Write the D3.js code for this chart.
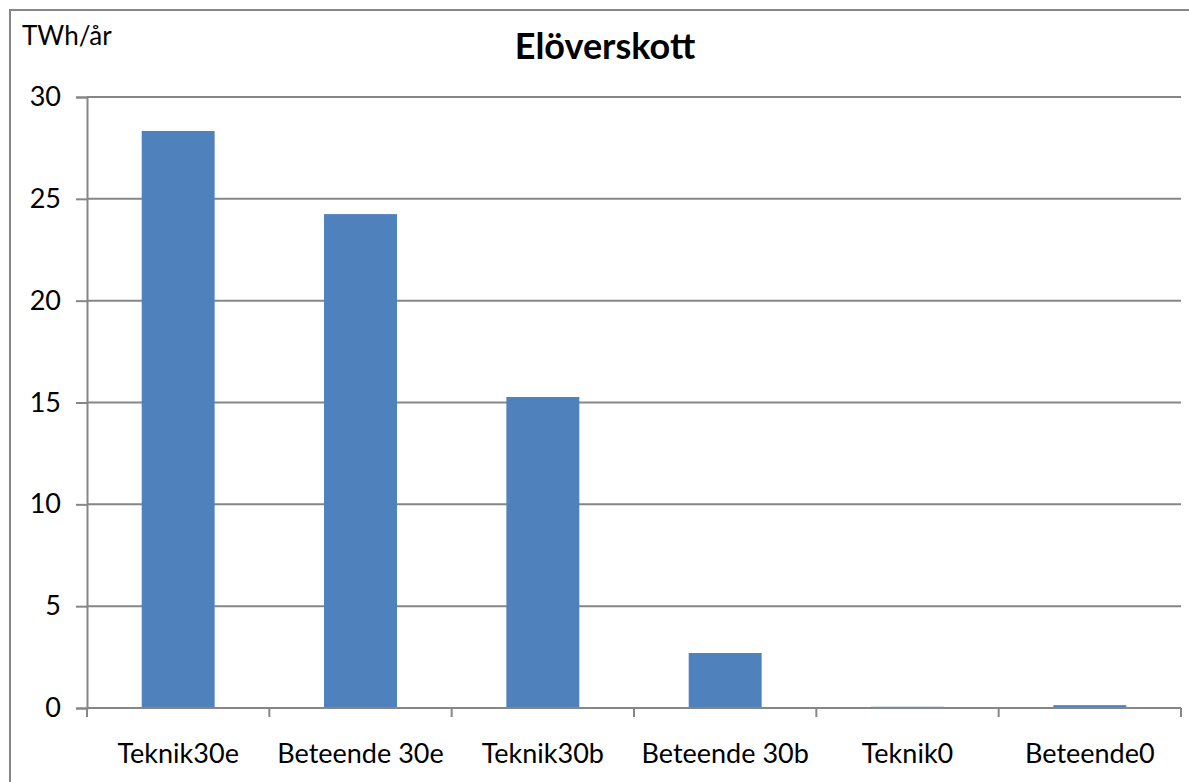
<!DOCTYPE html>
<html><head><meta charset="utf-8">
<script src="https://cdn.jsdelivr.net/npm/d3@7"></script>
<style>body{margin:0;background:#fff}svg{display:block}text{font-family:Lato,"Open Sans",sans-serif}</style>
</head><body>
<svg id="c" width="1189" height="782"></svg>
<script>
const categories = ["Teknik30e","Beteende 30e","Teknik30b","Beteende 30b","Teknik0","Beteende0"];
const values = [28.33, 24.25, 15.27, 2.70, 0.06, 0.14];
const yTicks = [0,5,10,15,20,25,30];
const title = "Elöverskott";
const unit = "TWh/år";

const svg = d3.select("#c");
const m = {left:87, right:1181, top:97, bottom:708};
svg.append("rect").attr("x",10).attr("y",10).attr("width",1189).attr("height",800)
  .attr("fill","#fff").attr("stroke","#868686").attr("stroke-width",2);

const x = d3.scaleBand().domain(categories).range([m.left,m.right]).paddingInner(0.6).paddingOuter(0.3);
const y = d3.scaleLinear().domain([0,30]).range([m.bottom,m.top]);

// gridlines
svg.append("g").selectAll("line").data(yTicks.filter(d=>d>0)).join("line")
  .attr("x1",m.left).attr("x2",m.right).attr("y1",d=>y(d)).attr("y2",d=>y(d))
  .attr("stroke","#868686").attr("stroke-width",2);

// bars
svg.append("g").selectAll("rect").data(values).join("rect")
  .attr("x",(d,i)=>x(categories[i])).attr("width",x.bandwidth())
  .attr("y",d=>y(d)).attr("height",d=>y(0)-y(d)).attr("fill","#4F81BD");

// y axis
const ya = svg.append("g").attr("transform",`translate(${m.left},0)`)
  .call(d3.axisLeft(y).tickValues(yTicks).tickSize(11).tickPadding(15));
ya.select(".domain").attr("stroke","#868686").attr("stroke-width",2);
ya.selectAll(".tick line").attr("stroke","#868686").attr("stroke-width",2);
ya.selectAll(".tick text").attr("font-size",27).attr("fill","#000").attr("font-family","Lato");

// x axis
const xs = d3.scaleLinear().domain([0,categories.length]).range([m.left,m.right]);
const xa = svg.append("g").attr("transform",`translate(0,${m.bottom})`);
xa.append("line").attr("x1",m.left).attr("x2",m.right).attr("stroke","#868686").attr("stroke-width",2);
xa.selectAll(".tk").data(d3.range(categories.length+1)).join("line")
  .attr("x1",d=>xs(d)).attr("x2",d=>xs(d)).attr("y1",0).attr("y2",9)
  .attr("stroke","#868686").attr("stroke-width",2);
xa.selectAll(".lb").data(categories).join("text")
  .attr("x",(d,i)=>xs(i+0.5)).attr("y",55).attr("text-anchor","middle")
  .attr("font-size",27).attr("fill","#000").text(d=>d);

svg.append("text").attr("x",605).attr("y",59).attr("text-anchor","middle")
  .attr("font-size",36).attr("font-weight","bold").text(title);
svg.append("text").attr("x",22).attr("y",45).attr("font-size",26).text(unit);
</script>
</body></html>
